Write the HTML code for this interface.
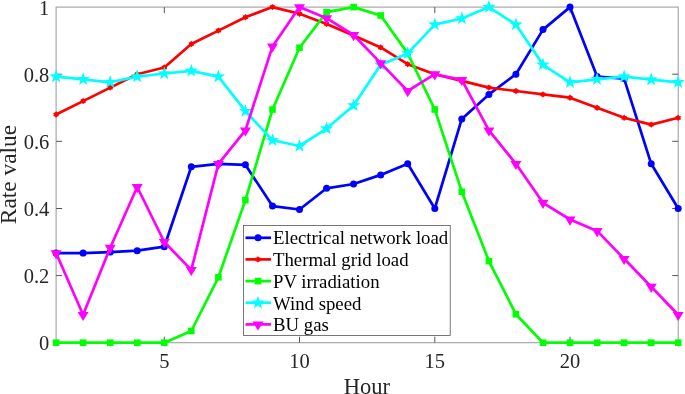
<!DOCTYPE html>
<html><head><meta charset="utf-8"><title>Rate value chart</title>
<style>
html,body{margin:0;padding:0;background:#fff;}
body{width:685px;height:394px;position:relative;overflow:hidden;font-family:"Liberation Serif",serif;}
svg text{font-family:"Liberation Serif",serif;fill:#262626;}
.t{font-size:20.5px;}
.l{font-size:22.5px;}
.g{font-size:18.8px;fill:#000;}
</style></head><body>
<svg width="685" height="394" viewBox="0 0 685 394" style="position:absolute;left:0;top:0">
<rect width="685" height="394" fill="#fff"/>
<rect x="56.1" y="7.1" width="622.1" height="335.6" fill="none" stroke="#a0a0a0" stroke-width="1.1"/>
<line x1="164.3" y1="342.7" x2="164.3" y2="336.7" stroke="#555" stroke-width="1"/>
<line x1="164.3" y1="7.1" x2="164.3" y2="13.1" stroke="#555" stroke-width="1"/>
<text x="164.3" y="368.2" text-anchor="middle" class="t">5</text>
<line x1="299.5" y1="342.7" x2="299.5" y2="336.7" stroke="#555" stroke-width="1"/>
<line x1="299.5" y1="7.1" x2="299.5" y2="13.1" stroke="#555" stroke-width="1"/>
<text x="299.5" y="368.2" text-anchor="middle" class="t">10</text>
<line x1="434.8" y1="342.7" x2="434.8" y2="336.7" stroke="#555" stroke-width="1"/>
<line x1="434.8" y1="7.1" x2="434.8" y2="13.1" stroke="#555" stroke-width="1"/>
<text x="434.8" y="368.2" text-anchor="middle" class="t">15</text>
<line x1="570.0" y1="342.7" x2="570.0" y2="336.7" stroke="#555" stroke-width="1"/>
<line x1="570.0" y1="7.1" x2="570.0" y2="13.1" stroke="#555" stroke-width="1"/>
<text x="570.0" y="368.2" text-anchor="middle" class="t">20</text>
<text x="49.3" y="350.2" text-anchor="end" class="t">0</text>
<line x1="56.1" y1="275.6" x2="62.1" y2="275.6" stroke="#555" stroke-width="1"/>
<line x1="678.2" y1="275.6" x2="672.2" y2="275.6" stroke="#555" stroke-width="1"/>
<text x="49.3" y="283.1" text-anchor="end" class="t">0.2</text>
<line x1="56.1" y1="208.5" x2="62.1" y2="208.5" stroke="#555" stroke-width="1"/>
<line x1="678.2" y1="208.5" x2="672.2" y2="208.5" stroke="#555" stroke-width="1"/>
<text x="49.3" y="216.0" text-anchor="end" class="t">0.4</text>
<line x1="56.1" y1="141.3" x2="62.1" y2="141.3" stroke="#555" stroke-width="1"/>
<line x1="678.2" y1="141.3" x2="672.2" y2="141.3" stroke="#555" stroke-width="1"/>
<text x="49.3" y="148.8" text-anchor="end" class="t">0.6</text>
<line x1="56.1" y1="74.2" x2="62.1" y2="74.2" stroke="#555" stroke-width="1"/>
<line x1="678.2" y1="74.2" x2="672.2" y2="74.2" stroke="#555" stroke-width="1"/>
<text x="49.3" y="81.7" text-anchor="end" class="t">0.8</text>
<text x="49.3" y="14.6" text-anchor="end" class="t">1</text>
<text x="366.8" y="394.4" text-anchor="middle" class="l">Hour</text>
<text transform="translate(16.3,174.5) rotate(-90)" text-anchor="middle" class="l" style="font-size:23.4px">Rate value</text>
<polyline points="56.1,253.1 83.1,253.1 110.2,252.1 137.2,250.7 164.3,246.7 191.3,166.8 218.4,163.8 245.4,164.8 272.5,206.1 299.5,209.5 326.6,188.3 353.6,184.0 380.7,174.9 407.7,163.8 434.8,208.5 461.8,118.9 488.9,94.4 515.9,74.2 543.0,29.6 570.0,7.1 597.1,76.6 624.1,78.6 651.2,163.8 678.2,208.5" fill="none" stroke="#0000ff" stroke-width="2.7" stroke-linejoin="round"/>
<circle cx="56.1" cy="253.1" r="3.5" fill="#0000ff"/>
<circle cx="83.1" cy="253.1" r="3.5" fill="#0000ff"/>
<circle cx="110.2" cy="252.1" r="3.5" fill="#0000ff"/>
<circle cx="137.2" cy="250.7" r="3.5" fill="#0000ff"/>
<circle cx="164.3" cy="246.7" r="3.5" fill="#0000ff"/>
<circle cx="191.3" cy="166.8" r="3.5" fill="#0000ff"/>
<circle cx="218.4" cy="163.8" r="3.5" fill="#0000ff"/>
<circle cx="245.4" cy="164.8" r="3.5" fill="#0000ff"/>
<circle cx="272.5" cy="206.1" r="3.5" fill="#0000ff"/>
<circle cx="299.5" cy="209.5" r="3.5" fill="#0000ff"/>
<circle cx="326.6" cy="188.3" r="3.5" fill="#0000ff"/>
<circle cx="353.6" cy="184.0" r="3.5" fill="#0000ff"/>
<circle cx="380.7" cy="174.9" r="3.5" fill="#0000ff"/>
<circle cx="407.7" cy="163.8" r="3.5" fill="#0000ff"/>
<circle cx="434.8" cy="208.5" r="3.5" fill="#0000ff"/>
<circle cx="461.8" cy="118.9" r="3.5" fill="#0000ff"/>
<circle cx="488.9" cy="94.4" r="3.5" fill="#0000ff"/>
<circle cx="515.9" cy="74.2" r="3.5" fill="#0000ff"/>
<circle cx="543.0" cy="29.6" r="3.5" fill="#0000ff"/>
<circle cx="570.0" cy="7.1" r="3.5" fill="#0000ff"/>
<circle cx="597.1" cy="76.6" r="3.5" fill="#0000ff"/>
<circle cx="624.1" cy="78.6" r="3.5" fill="#0000ff"/>
<circle cx="651.2" cy="163.8" r="3.5" fill="#0000ff"/>
<circle cx="678.2" cy="208.5" r="3.5" fill="#0000ff"/>
<polyline points="56.1,114.5 83.1,101.1 110.2,87.6 137.2,74.2 164.3,67.5 191.3,44.0 218.4,30.6 245.4,17.2 272.5,7.1 299.5,13.8 326.6,23.9 353.6,35.6 380.7,47.4 407.7,64.2 434.8,74.2 461.8,80.9 488.9,87.6 515.9,91.0 543.0,94.4 570.0,97.7 597.1,107.8 624.1,117.8 651.2,124.6 678.2,117.8" fill="none" stroke="#ff0000" stroke-width="2.7" stroke-linejoin="round"/>
<polygon points="56.1,111.3 57.3,112.5 58.9,112.9 58.4,114.5 58.9,116.1 57.3,116.5 56.1,117.7 54.9,116.5 53.3,116.1 53.8,114.5 53.3,112.9 54.9,112.5" fill="#ff0000"/>
<polygon points="83.1,97.9 84.3,99.1 85.9,99.5 85.5,101.1 85.9,102.7 84.3,103.1 83.1,104.3 82.0,103.1 80.4,102.7 80.8,101.1 80.4,99.5 82.0,99.1" fill="#ff0000"/>
<polygon points="110.2,84.4 111.3,85.6 113.0,86.0 112.5,87.6 113.0,89.2 111.3,89.6 110.2,90.8 109.0,89.6 107.4,89.2 107.9,87.6 107.4,86.0 109.0,85.6" fill="#ff0000"/>
<polygon points="137.2,71.0 138.4,72.2 140.0,72.6 139.5,74.2 140.0,75.8 138.4,76.2 137.2,77.4 136.1,76.2 134.5,75.8 134.9,74.2 134.5,72.6 136.1,72.2" fill="#ff0000"/>
<polygon points="164.3,64.3 165.4,65.5 167.1,65.9 166.6,67.5 167.1,69.1 165.4,69.5 164.3,70.7 163.1,69.5 161.5,69.1 162.0,67.5 161.5,65.9 163.1,65.5" fill="#ff0000"/>
<polygon points="191.3,40.8 192.5,42.0 194.1,42.4 193.6,44.0 194.1,45.6 192.5,46.0 191.3,47.2 190.2,46.0 188.6,45.6 189.0,44.0 188.6,42.4 190.2,42.0" fill="#ff0000"/>
<polygon points="218.4,27.4 219.5,28.6 221.2,29.0 220.7,30.6 221.2,32.2 219.5,32.6 218.4,33.8 217.2,32.6 215.6,32.2 216.1,30.6 215.6,29.0 217.2,28.6" fill="#ff0000"/>
<polygon points="245.4,14.0 246.6,15.2 248.2,15.6 247.7,17.2 248.2,18.8 246.6,19.2 245.4,20.4 244.3,19.2 242.7,18.8 243.1,17.2 242.7,15.6 244.3,15.2" fill="#ff0000"/>
<polygon points="272.5,3.9 273.6,5.1 275.3,5.5 274.8,7.1 275.3,8.7 273.6,9.1 272.5,10.3 271.3,9.1 269.7,8.7 270.2,7.1 269.7,5.5 271.3,5.1" fill="#ff0000"/>
<polygon points="299.5,10.6 300.7,11.8 302.3,12.2 301.8,13.8 302.3,15.4 300.7,15.8 299.5,17.0 298.4,15.8 296.8,15.4 297.2,13.8 296.8,12.2 298.4,11.8" fill="#ff0000"/>
<polygon points="326.6,20.7 327.7,21.9 329.3,22.3 328.9,23.9 329.3,25.5 327.7,25.9 326.6,27.1 325.4,25.9 323.8,25.5 324.3,23.9 323.8,22.3 325.4,21.9" fill="#ff0000"/>
<polygon points="353.6,32.4 354.8,33.6 356.4,34.0 355.9,35.6 356.4,37.2 354.8,37.6 353.6,38.8 352.5,37.6 350.9,37.2 351.3,35.6 350.9,34.0 352.5,33.6" fill="#ff0000"/>
<polygon points="380.7,44.2 381.8,45.4 383.4,45.8 383.0,47.4 383.4,49.0 381.8,49.4 380.7,50.6 379.5,49.4 377.9,49.0 378.4,47.4 377.9,45.8 379.5,45.4" fill="#ff0000"/>
<polygon points="407.7,61.0 408.9,62.2 410.5,62.6 410.0,64.2 410.5,65.8 408.9,66.1 407.7,67.4 406.6,66.1 405.0,65.8 405.4,64.2 405.0,62.6 406.6,62.2" fill="#ff0000"/>
<polygon points="434.8,71.0 435.9,72.2 437.5,72.6 437.1,74.2 437.5,75.8 435.9,76.2 434.8,77.4 433.6,76.2 432.0,75.8 432.5,74.2 432.0,72.6 433.6,72.2" fill="#ff0000"/>
<polygon points="461.8,77.7 463.0,78.9 464.6,79.3 464.1,80.9 464.6,82.5 463.0,82.9 461.8,84.1 460.7,82.9 459.0,82.5 459.5,80.9 459.0,79.3 460.7,78.9" fill="#ff0000"/>
<polygon points="488.9,84.4 490.0,85.6 491.6,86.0 491.2,87.6 491.6,89.2 490.0,89.6 488.9,90.8 487.7,89.6 486.1,89.2 486.6,87.6 486.1,86.0 487.7,85.6" fill="#ff0000"/>
<polygon points="515.9,87.8 517.1,89.0 518.7,89.4 518.2,91.0 518.7,92.6 517.1,93.0 515.9,94.2 514.8,93.0 513.1,92.6 513.6,91.0 513.1,89.4 514.8,89.0" fill="#ff0000"/>
<polygon points="543.0,91.2 544.1,92.4 545.7,92.8 545.3,94.4 545.7,96.0 544.1,96.4 543.0,97.6 541.8,96.4 540.2,96.0 540.7,94.4 540.2,92.8 541.8,92.4" fill="#ff0000"/>
<polygon points="570.0,94.5 571.2,95.7 572.8,96.1 572.3,97.7 572.8,99.3 571.2,99.7 570.0,100.9 568.9,99.7 567.2,99.3 567.7,97.7 567.2,96.1 568.9,95.7" fill="#ff0000"/>
<polygon points="597.1,104.6 598.2,105.8 599.8,106.2 599.4,107.8 599.8,109.4 598.2,109.8 597.1,111.0 595.9,109.8 594.3,109.4 594.8,107.8 594.3,106.2 595.9,105.8" fill="#ff0000"/>
<polygon points="624.1,114.6 625.3,115.9 626.9,116.2 626.4,117.8 626.9,119.4 625.3,119.8 624.1,121.0 623.0,119.8 621.3,119.4 621.8,117.8 621.3,116.2 623.0,115.9" fill="#ff0000"/>
<polygon points="651.2,121.4 652.3,122.6 653.9,123.0 653.5,124.6 653.9,126.2 652.3,126.6 651.2,127.8 650.0,126.6 648.4,126.2 648.8,124.6 648.4,123.0 650.0,122.6" fill="#ff0000"/>
<polygon points="678.2,114.6 679.4,115.9 681.0,116.2 680.5,117.8 681.0,119.4 679.4,119.8 678.2,121.0 677.0,119.8 675.4,119.4 675.9,117.8 675.4,116.2 677.0,115.9" fill="#ff0000"/>
<polyline points="56.1,342.7 83.1,342.7 110.2,342.7 137.2,342.7 164.3,342.7 191.3,331.0 218.4,277.3 245.4,200.1 272.5,109.5 299.5,47.7 326.6,12.1 353.6,7.1 380.7,15.5 407.7,53.4 434.8,109.5 461.8,191.7 488.9,261.1 515.9,314.2 543.0,342.7 570.0,342.7 597.1,342.7 624.1,342.7 651.2,342.7 678.2,342.7" fill="none" stroke="#00ff00" stroke-width="2.7" stroke-linejoin="round"/>
<rect x="52.8" y="339.4" width="6.6" height="6.6" fill="#00ff00"/>
<rect x="79.8" y="339.4" width="6.6" height="6.6" fill="#00ff00"/>
<rect x="106.9" y="339.4" width="6.6" height="6.6" fill="#00ff00"/>
<rect x="133.9" y="339.4" width="6.6" height="6.6" fill="#00ff00"/>
<rect x="161.0" y="339.4" width="6.6" height="6.6" fill="#00ff00"/>
<rect x="188.0" y="327.7" width="6.6" height="6.6" fill="#00ff00"/>
<rect x="215.1" y="274.0" width="6.6" height="6.6" fill="#00ff00"/>
<rect x="242.1" y="196.8" width="6.6" height="6.6" fill="#00ff00"/>
<rect x="269.2" y="106.2" width="6.6" height="6.6" fill="#00ff00"/>
<rect x="296.2" y="44.4" width="6.6" height="6.6" fill="#00ff00"/>
<rect x="323.3" y="8.8" width="6.6" height="6.6" fill="#00ff00"/>
<rect x="350.3" y="3.8" width="6.6" height="6.6" fill="#00ff00"/>
<rect x="377.4" y="12.2" width="6.6" height="6.6" fill="#00ff00"/>
<rect x="404.4" y="50.1" width="6.6" height="6.6" fill="#00ff00"/>
<rect x="431.5" y="106.2" width="6.6" height="6.6" fill="#00ff00"/>
<rect x="458.5" y="188.4" width="6.6" height="6.6" fill="#00ff00"/>
<rect x="485.6" y="257.8" width="6.6" height="6.6" fill="#00ff00"/>
<rect x="512.6" y="310.9" width="6.6" height="6.6" fill="#00ff00"/>
<rect x="539.7" y="339.4" width="6.6" height="6.6" fill="#00ff00"/>
<rect x="566.7" y="339.4" width="6.6" height="6.6" fill="#00ff00"/>
<rect x="593.8" y="339.4" width="6.6" height="6.6" fill="#00ff00"/>
<rect x="620.8" y="339.4" width="6.6" height="6.6" fill="#00ff00"/>
<rect x="647.9" y="339.4" width="6.6" height="6.6" fill="#00ff00"/>
<rect x="674.9" y="339.4" width="6.6" height="6.6" fill="#00ff00"/>
<polyline points="56.1,76.6 83.1,79.3 110.2,82.3 137.2,76.6 164.3,73.5 191.3,70.9 218.4,76.6 245.4,111.1 272.5,140.3 299.5,146.0 326.6,128.6 353.6,105.4 380.7,64.8 407.7,53.4 434.8,24.6 461.8,18.5 488.9,7.1 515.9,24.6 543.0,64.8 570.0,82.3 597.1,79.3 624.1,76.6 651.2,79.6 678.2,82.3" fill="none" stroke="#00ffff" stroke-width="2.7" stroke-linejoin="round"/>
<polygon points="56.1,69.6 57.7,74.3 62.8,74.4 58.8,77.4 60.2,82.2 56.1,79.4 52.0,82.2 53.4,77.4 49.4,74.4 54.5,74.3" fill="#00ffff"/>
<polygon points="83.1,72.3 84.8,77.0 89.8,77.1 85.8,80.1 87.3,84.9 83.1,82.1 79.0,84.9 80.5,80.1 76.5,77.1 81.5,77.0" fill="#00ffff"/>
<polygon points="110.2,75.3 111.8,80.0 116.9,80.1 112.9,83.1 114.3,87.9 110.2,85.1 106.1,87.9 107.5,83.1 103.5,80.1 108.5,80.0" fill="#00ffff"/>
<polygon points="137.2,69.6 138.9,74.3 143.9,74.4 139.9,77.4 141.4,82.2 137.2,79.4 133.1,82.2 134.6,77.4 130.6,74.4 135.6,74.3" fill="#00ffff"/>
<polygon points="164.3,66.5 165.9,71.3 170.9,71.4 167.0,74.4 168.4,79.2 164.3,76.3 160.2,79.2 161.6,74.4 157.6,71.4 162.6,71.3" fill="#00ffff"/>
<polygon points="191.3,63.9 193.0,68.6 198.0,68.7 194.0,71.7 195.5,76.5 191.3,73.7 187.2,76.5 188.7,71.7 184.7,68.7 189.7,68.6" fill="#00ffff"/>
<polygon points="218.4,69.6 220.0,74.3 225.0,74.4 221.0,77.4 222.5,82.2 218.4,79.4 214.3,82.2 215.7,77.4 211.7,74.4 216.7,74.3" fill="#00ffff"/>
<polygon points="245.4,104.1 247.1,108.9 252.1,109.0 248.1,112.0 249.5,116.8 245.4,113.9 241.3,116.8 242.8,112.0 238.8,109.0 243.8,108.9" fill="#00ffff"/>
<polygon points="272.5,133.3 274.1,138.1 279.1,138.2 275.1,141.2 276.6,146.0 272.5,143.1 268.4,146.0 269.8,141.2 265.8,138.2 270.8,138.1" fill="#00ffff"/>
<polygon points="299.5,139.0 301.2,143.8 306.2,143.9 302.2,146.9 303.6,151.7 299.5,148.8 295.4,151.7 296.9,146.9 292.9,143.9 297.9,143.8" fill="#00ffff"/>
<polygon points="326.6,121.6 328.2,126.3 333.2,126.4 329.2,129.5 330.7,134.3 326.6,131.4 322.5,134.3 323.9,129.5 319.9,126.4 324.9,126.3" fill="#00ffff"/>
<polygon points="353.6,98.4 355.3,103.2 360.3,103.3 356.3,106.3 357.7,111.1 353.6,108.2 349.5,111.1 351.0,106.3 347.0,103.3 352.0,103.2" fill="#00ffff"/>
<polygon points="380.7,57.8 382.3,62.6 387.3,62.7 383.3,65.7 384.8,70.5 380.7,67.6 376.6,70.5 378.0,65.7 374.0,62.7 379.0,62.6" fill="#00ffff"/>
<polygon points="407.7,46.4 409.4,51.1 414.4,51.2 410.4,54.3 411.8,59.1 407.7,56.2 403.6,59.1 405.1,54.3 401.1,51.2 406.1,51.1" fill="#00ffff"/>
<polygon points="434.8,17.6 436.4,22.3 441.4,22.4 437.4,25.4 438.9,30.2 434.8,27.4 430.7,30.2 432.1,25.4 428.1,22.4 433.1,22.3" fill="#00ffff"/>
<polygon points="461.8,11.5 463.5,16.2 468.5,16.3 464.5,19.4 465.9,24.2 461.8,21.3 457.7,24.2 459.2,19.4 455.2,16.3 460.2,16.2" fill="#00ffff"/>
<polygon points="488.9,0.1 490.5,4.8 495.5,4.9 491.5,8.0 493.0,12.8 488.9,9.9 484.8,12.8 486.2,8.0 482.2,4.9 487.2,4.8" fill="#00ffff"/>
<polygon points="515.9,17.6 517.6,22.3 522.6,22.4 518.6,25.4 520.0,30.2 515.9,27.4 511.8,30.2 513.3,25.4 509.3,22.4 514.3,22.3" fill="#00ffff"/>
<polygon points="543.0,57.8 544.6,62.6 549.6,62.7 545.6,65.7 547.1,70.5 543.0,67.6 538.8,70.5 540.3,65.7 536.3,62.7 541.3,62.6" fill="#00ffff"/>
<polygon points="570.0,75.3 571.7,80.0 576.7,80.1 572.7,83.1 574.1,87.9 570.0,85.1 565.9,87.9 567.3,83.1 563.4,80.1 568.4,80.0" fill="#00ffff"/>
<polygon points="597.1,72.3 598.7,77.0 603.7,77.1 599.7,80.1 601.2,84.9 597.1,82.1 592.9,84.9 594.4,80.1 590.4,77.1 595.4,77.0" fill="#00ffff"/>
<polygon points="624.1,69.6 625.8,74.3 630.8,74.4 626.8,77.4 628.2,82.2 624.1,79.4 620.0,82.2 621.4,77.4 617.4,74.4 622.5,74.3" fill="#00ffff"/>
<polygon points="651.2,72.6 652.8,77.3 657.8,77.4 653.8,80.5 655.3,85.3 651.2,82.4 647.0,85.3 648.5,80.5 644.5,77.4 649.5,77.3" fill="#00ffff"/>
<polygon points="678.2,75.3 679.8,80.0 684.9,80.1 680.9,83.1 682.3,87.9 678.2,85.1 674.1,87.9 675.5,83.1 671.5,80.1 676.6,80.0" fill="#00ffff"/>
<polyline points="56.1,253.1 83.1,314.8 110.2,247.7 137.2,187.0 164.3,242.0 191.3,269.9 218.4,163.8 245.4,130.3 272.5,46.4 299.5,7.1 326.6,18.2 353.6,35.0 380.7,63.1 407.7,91.0 434.8,74.2 461.8,79.9 488.9,130.3 515.9,163.8 543.0,202.8 570.0,219.5 597.1,230.9 624.1,258.8 651.2,286.7 678.2,314.8" fill="none" stroke="#ff00ff" stroke-width="2.7" stroke-linejoin="round"/>
<polygon points="50.6,250.2 61.6,250.2 56.1,259.3" fill="#ff00ff"/>
<polygon points="77.6,311.9 88.6,311.9 83.1,321.1" fill="#ff00ff"/>
<polygon points="104.7,244.8 115.7,244.8 110.2,253.9" fill="#ff00ff"/>
<polygon points="131.7,184.1 142.7,184.1 137.2,193.2" fill="#ff00ff"/>
<polygon points="158.8,239.1 169.8,239.1 164.3,248.2" fill="#ff00ff"/>
<polygon points="185.8,267.0 196.8,267.0 191.3,276.1" fill="#ff00ff"/>
<polygon points="212.9,160.9 223.9,160.9 218.4,170.0" fill="#ff00ff"/>
<polygon points="239.9,127.4 250.9,127.4 245.4,136.5" fill="#ff00ff"/>
<polygon points="267.0,43.5 278.0,43.5 272.5,52.6" fill="#ff00ff"/>
<polygon points="294.0,4.2 305.0,4.2 299.5,13.3" fill="#ff00ff"/>
<polygon points="321.1,15.3 332.1,15.3 326.6,24.4" fill="#ff00ff"/>
<polygon points="348.1,32.0 359.1,32.0 353.6,41.2" fill="#ff00ff"/>
<polygon points="375.2,60.2 386.2,60.2 380.7,69.4" fill="#ff00ff"/>
<polygon points="402.2,88.1 413.2,88.1 407.7,97.2" fill="#ff00ff"/>
<polygon points="429.3,71.3 440.3,71.3 434.8,80.4" fill="#ff00ff"/>
<polygon points="456.3,77.0 467.3,77.0 461.8,86.1" fill="#ff00ff"/>
<polygon points="483.4,127.4 494.4,127.4 488.9,136.5" fill="#ff00ff"/>
<polygon points="510.4,160.9 521.4,160.9 515.9,170.0" fill="#ff00ff"/>
<polygon points="537.5,199.8 548.5,199.8 543.0,209.0" fill="#ff00ff"/>
<polygon points="564.5,216.6 575.5,216.6 570.0,225.7" fill="#ff00ff"/>
<polygon points="591.6,228.0 602.6,228.0 597.1,237.2" fill="#ff00ff"/>
<polygon points="618.6,255.9 629.6,255.9 624.1,265.0" fill="#ff00ff"/>
<polygon points="645.7,283.7 656.7,283.7 651.2,292.9" fill="#ff00ff"/>
<polygon points="672.7,311.9 683.7,311.9 678.2,321.1" fill="#ff00ff"/>
<rect x="243.4" y="225.4" width="206.8" height="110.2" fill="#fff" stroke="#555" stroke-width="0.8"/>
<line x1="245.5" y1="237.8" x2="271" y2="237.8" stroke="#0000ff" stroke-width="2.7"/>
<circle cx="258.0" cy="237.8" r="3.5" fill="#0000ff"/>
<text x="273" y="244.1" class="g">Electrical network load</text>
<line x1="245.5" y1="259.4" x2="271" y2="259.4" stroke="#ff0000" stroke-width="2.7"/>
<polygon points="258.0,256.2 259.2,257.4 260.8,257.8 260.3,259.4 260.8,261.0 259.2,261.4 258.0,262.6 256.8,261.4 255.2,261.0 255.7,259.4 255.2,257.8 256.8,257.4" fill="#ff0000"/>
<text x="273" y="265.9" class="g">Thermal grid load</text>
<line x1="245.5" y1="281.1" x2="271" y2="281.1" stroke="#00ff00" stroke-width="2.7"/>
<rect x="254.7" y="277.8" width="6.6" height="6.6" fill="#00ff00"/>
<text x="273" y="287.7" class="g">PV irradiation</text>
<line x1="245.5" y1="302.7" x2="271" y2="302.7" stroke="#00ffff" stroke-width="2.7"/>
<polygon points="258.0,295.7 259.6,300.5 264.7,300.6 260.7,303.6 262.1,308.4 258.0,305.5 253.9,308.4 255.3,303.6 251.3,300.6 256.4,300.5" fill="#00ffff"/>
<text x="273" y="309.5" class="g">Wind speed</text>
<line x1="245.5" y1="324.4" x2="271" y2="324.4" stroke="#ff00ff" stroke-width="2.7"/>
<polygon points="252.5,321.4 263.5,321.4 258.0,330.6" fill="#ff00ff"/>
<text x="273" y="331.3" class="g">BU gas</text>
</svg>
</body></html>
